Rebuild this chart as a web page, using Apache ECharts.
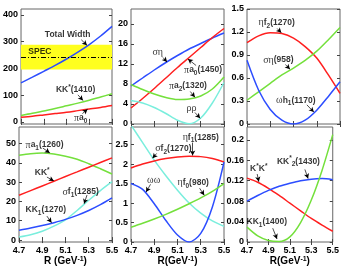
<!DOCTYPE html>
<html><head><meta charset="utf-8">
<script src="https://cdn.jsdelivr.net/npm/echarts@6/dist/echarts.min.js"></script>
<style>html,body{margin:0;padding:0;background:#fff}#c{width:342px;height:268px}</style>
</head><body><div id="c"></div>
<script>
// ---- shared x grid (R in GeV^-1) ----
const R = [4.7, 4.8, 4.9, 5.0, 5.1, 5.2, 5.3, 5.4, 5.5];
const xTicks = [4.7, 4.9, 5.1, 5.3, 5.5];

// ---- panel 1 ----
const totalWidth = [146, 167, 189, 211, 235, 261, 289, 321, 357];
const kkStar1410 = [24, 32, 41, 50, 60, 70, 81, 93, 105];
const piA0 = [17, 21, 26, 31, 36, 42, 48, 54, 61];
const specBand = [196, 288];
const specCenter = 240;
const yTicks1 = [0, 100, 200, 300, 400];

// ---- panel 2 ----
const sigmaEta = [7.6, 9.2, 10.8, 12.3, 13.7, 15.0, 16.1, 17.2, 18.2];
const piA0_1450 = [3.2, 5.1, 7.1, 9.2, 11.3, 13.3, 15.3, 17.3, 19.1];
const piA2_1320 = [7.9, 6.9, 6.0, 5.3, 4.9, 5.0, 5.6, 7.0, 9.4];
const rhoRho = [4.7, 4.2, 3.3, 2.1, 0.75, 0.05, 1.2, 4.2, 8.3];
const yTicks2 = [0, 4, 8, 12, 16, 20];

// ---- panel 3 ----
const etaF2_1270 = [1.06, 1.15, 1.19, 1.18, 1.12, 1.01, 0.86, 0.64, 0.40];
const sigmaEta958 = [0.31, 0.42, 0.53, 0.64, 0.73, 0.83, 0.95, 1.10, 1.26];
const omegaH1_1170 = [0.83, 0.44, 0.19, 0.05, 0.0, 0.05, 0.18, 0.36, 0.55];
const yTicks3 = [0, 0.3, 0.6, 0.9, 1.2, 1.5];

// ---- panel 4 ----
const piA1_1260 = [43.9, 44.7, 45.0, 44.5, 43.4, 41.8, 39.5, 36.9, 34.2];
const kkStar = [23.2, 25.6, 28.0, 30.4, 32.9, 35.3, 37.7, 40.1, 42.5];
const sigmaF1_1285 = [1.6, 2.8, 4.6, 7.2, 10.5, 15.3, 20.6, 25.6, 30.2];
const kk1_1270 = [5.1, 6.2, 7.5, 9.0, 10.7, 12.8, 15.3, 18.3, 21.8];
const yTicks4 = [0, 10, 20, 30, 40, 50];

// ---- panel 5 ----
const etaF1_1285 = [1.9, 2.0, 2.08, 2.14, 2.18, 2.2, 2.19, 2.14, 2.05];
const sigmaF2_1270 = [3.0, 2.55, 2.1, 1.7, 1.33, 1.0, 0.74, 0.54, 0.40];
const omegaOmega = [1.5, 1.35, 0.98, 0.55, 0.18, 0.0, 0.22, 0.9, 2.05];
const etaF0_980 = [0.38, 0.48, 0.59, 0.71, 0.84, 0.98, 1.13, 1.3, 1.5];
const yTicks5 = [0, 0.5, 1, 1.5, 2, 2.5];

// ---- panel 6 ----
const kStarKStar = [0.125, 0.117, 0.105, 0.091, 0.076, 0.061, 0.046, 0.033, 0.021];
const kkStar2_1430 = [0.080, 0.091, 0.101, 0.109, 0.115, 0.120, 0.123, 0.124, 0.122];
const kk1_1400 = [0.029, 0.012, 0.003, 0.001, 0.010, 0.038, 0.082, 0.140, 0.210];
const yTicks6 = [0, 0.04, 0.08, 0.12, 0.16, 0.2];

const C = {blue: '#2c4dff', red: '#ff1f1f', green: '#74e03c', cyan: '#7aeedd'};

const panels = [
  {left: 19, top: 9, ymin: -8, ymax: 422, yTicks: yTicks1, bottom: false,
   band: specBand, bandLine: specCenter,
   lines: [[totalWidth, C.blue], [kkStar1410, C.green], [piA0, C.red]],
   notes: [
     {text: 'Total Width', at: [5.11, 325], arrow: [[5.23, 307], [5.28, 286]]},
     {text: 'SPEC', at: [4.866, 261]},
     {text: 'KK{sup|*}(1410)', at: [5.18, 119], arrow: [[5.2, 101], [5.245, 80]]},
     {text: '{g|π}a{sub|0}', at: [5.225, 14], arrow: [[5.24, 31], [5.285, 47]]}
   ]},
  {left: 131, top: 9, ymin: 0, ymax: 23, yTicks: yTicks2, bottom: false,
   lines: [[sigmaEta, C.blue], [piA0_1450, C.red], [piA2_1320, C.green], [rhoRho, C.cyan]],
   notes: [
     {text: '{g|ση}', at: [4.93, 14.3], arrow: [[4.975, 13.3], [5.01, 12.4]]},
     {text: '{g|π}a{sub|0}(1450)', at: [5.32, 10.8], arrow: [[5.26, 11.7], [5.19, 13.0]]},
     {text: '{g|π}a{sub|2}(1320)', at: [5.19, 7.6], arrow: [[5.21, 6.5], [5.25, 5.35]]},
     {text: '{g|ρρ}', at: [5.22, 3.2], arrow: [[5.25, 2.3], [5.295, 1.15]]}
   ]},
  {left: 247, top: 9, ymin: 0, ymax: 1.5, yTicks: yTicks3, bottom: false,
   lines: [[etaF2_1270, C.red], [sigmaEta958, C.green], [omegaH1_1170, C.blue]],
   notes: [
     {text: '{g|η}f{sub|2}(1270)', at: [4.955, 1.32], arrow: [[4.96, 1.245], [4.995, 1.19]]},
     {text: '{g|ση}(958)', at: [4.97, 0.835], arrow: [[5.03, 0.775], [5.07, 0.715]]},
     {text: '{g|ω}h{sub|1}(1170)', at: [5.12, 0.31], arrow: [[5.215, 0.25], [5.275, 0.155]]}
   ]},
  {left: 19, top: 127, ymin: -1, ymax: 58.5, yTicks: yTicks4, bottom: true, name: 'R (GeV{s|-1})',
   lines: [[piA1_1260, C.green], [kkStar, C.red], [sigmaF1_1285, C.cyan], [kk1_1270, C.blue]],
   notes: [
     {text: '{g|π}a{sub|1}(1260)', at: [4.92, 49.2], arrow: [[4.905, 47.6], [4.965, 45.1]]},
     {text: 'KK{sup|*}', at: [4.9, 34.7], arrow: [[4.94, 32.6], [5.0, 30.6]]},
     {text: '{g|σ}f{sub|1}(1285)', at: [5.23, 24.9], arrow: [[5.285, 23.3], [5.26, 18.8]]},
     {text: 'KK{sub|1}(1270)', at: [4.93, 15.6], arrow: [[4.94, 12.4], [4.98, 9.0]]}
   ]},
  {left: 131, top: 127, ymin: 0, ymax: 2.95, yTicks: yTicks5, bottom: true, name: 'R(GeV{s|-1})',
   lines: [[sigmaF2_1270, C.cyan], [etaF1_1285, C.red], [omegaOmega, C.blue], [etaF0_980, C.green]],
   notes: [
     {text: '{g|η}f{sub|1}(1285)', at: [5.30, 2.68], arrow: [[5.23, 2.55], [5.23, 2.22]]},
     {text: '{g|σ}f{sub|2}(1270)', at: [5.065, 2.39], arrow: [[4.92, 2.27], [4.885, 2.15]]},
     {text: '{g|ωω}', at: [4.895, 1.57], arrow: [[4.868, 1.48], [4.83, 1.28]]},
     {text: '{g|η}f{sub|0}(980)', at: [5.235, 1.52], arrow: [[5.29, 1.38], [5.33, 1.2]]}
   ]},
  {left: 247, top: 127, ymin: 0, ymax: 0.225, yTicks: yTicks6, bottom: true, name: 'R(GeV{s|-1})',
   lines: [[kStarKStar, C.red], [kkStar2_1430, C.blue], [kk1_1400, C.green]],
   notes: [
     {text: 'K{sup|*}K{sup|*}', at: [4.81, 0.143], arrow: [[4.795, 0.133], [4.81, 0.118]]},
     {text: 'KK{sup|*}{sub|2}(1430)', at: [5.18, 0.158], arrow: [[5.24, 0.142], [5.27, 0.124]]},
     {text: 'KK{sub|1}(1400)', at: [4.885, 0.039], arrow: [[4.94, 0.027], [4.98, 0.006]]}
   ]}
];

const FONT = 'Liberation Sans';
const RICH = {
  g: {fontFamily: 'Liberation Serif', fontWeight: 'normal', fontSize: 10, lineHeight: 13, color: '#000'},
  sub: {fontFamily: FONT, fontSize: 6.5, fontWeight: 'bold', verticalAlign: 'bottom', lineHeight: 8, color: '#000'},
  sup: {fontFamily: FONT, fontSize: 6.5, fontWeight: 'bold', verticalAlign: 'top', lineHeight: 8, color: '#000'}
};
const tickStyle = {show: true, inside: true, length: 3, lineStyle: {color: '#444', width: 1}};

const grid = [], xAxis = [], yAxis = [], series = [];
panels.forEach((p, i) => {
  grid.push({left: p.left, top: p.top, width: 93, height: 115, show: true,
    borderColor: '#666', borderWidth: 1, containLabel: false});
  const xBase = {type: 'value', gridIndex: i, min: 4.7, max: 5.5,
    axisLine: {show: false}, splitLine: {show: false},
    axisTick: Object.assign({customValues: xTicks}, tickStyle)};
  xAxis.push(Object.assign({}, xBase, {position: 'bottom',
    axisLabel: {show: p.bottom, customValues: xTicks, formatter: v => v.toFixed(1),
      fontSize: 9, fontWeight: 'bold', fontFamily: FONT, color: '#000', margin: 4},
    name: p.bottom ? p.name : '', nameLocation: 'middle', nameGap: 13,
    nameTextStyle: {fontSize: 10, fontWeight: 'bold', fontFamily: FONT, color: '#000',
      rich: {s: {fontSize: 7, fontWeight: 'bold', fontFamily: FONT, verticalAlign: 'top', lineHeight: 8, color: '#000'}}}}));
  xAxis.push(Object.assign({}, xBase, {position: 'top', axisLabel: {show: false}}));
  const yBase = {type: 'value', gridIndex: i, min: p.ymin, max: p.ymax,
    axisLine: {show: false}, splitLine: {show: false},
    axisTick: Object.assign({customValues: p.yTicks}, tickStyle)};
  yAxis.push(Object.assign({}, yBase, {position: 'left',
    axisLabel: {show: true, customValues: p.yTicks, formatter: v => String(v),
      fontSize: 9, fontWeight: 'bold', fontFamily: FONT, color: '#000', margin: 3}}));
  yAxis.push(Object.assign({}, yBase, {position: 'right', axisLabel: {show: false}}));

  if (p.band) {
    series.push({type: 'line', xAxisIndex: 2 * i, yAxisIndex: 2 * i, z: 1, silent: true,
      data: [[4.7, p.bandLine], [5.5, p.bandLine]], showSymbol: false,
      lineStyle: {opacity: 0},
      markArea: {silent: true, itemStyle: {color: '#ffff1e'},
        data: [[{yAxis: p.band[0]}, {yAxis: p.band[1]}]]},
      markLine: {silent: true, symbol: ['none', 'none'], label: {show: false},
        lineStyle: {color: '#000', type: [5, 2, 1, 2], width: 1},
        data: [{yAxis: p.bandLine}]}});
  }
  p.lines.forEach(([vals, color]) => {
    series.push({type: 'line', xAxisIndex: 2 * i, yAxisIndex: 2 * i, z: 3, silent: true,
      data: R.map((r, k) => [r, vals[k]]), smooth: 0.3, showSymbol: false,
      lineStyle: {color: color, width: 1.5}, itemStyle: {color: color}});
  });
  series.push({type: 'scatter', xAxisIndex: 2 * i, yAxisIndex: 2 * i, z: 5, silent: true,
    symbolSize: 1, itemStyle: {color: 'rgba(0,0,0,0)'},
    data: p.notes.map(n => ({value: n.at, label: {formatter: n.text}})),
    label: {show: true, position: 'inside', color: '#000', fontSize: 8.5, fontWeight: 'bold',
      fontFamily: FONT, lineHeight: 13, rich: RICH},
    markLine: {silent: true, symbol: ['none', 'arrow'], symbolSize: [4, 5], label: {show: false},
      lineStyle: {color: '#000', width: 0.7, type: 'solid'},
      data: p.notes.filter(n => n.arrow).map(n => [{coord: n.arrow[0]}, {coord: n.arrow[1]}])}});
});

const chart = echarts.init(document.getElementById('c'), null, {renderer: 'canvas'});
chart.setOption({animation: false, grid, xAxis, yAxis, series});
</script></body></html>
